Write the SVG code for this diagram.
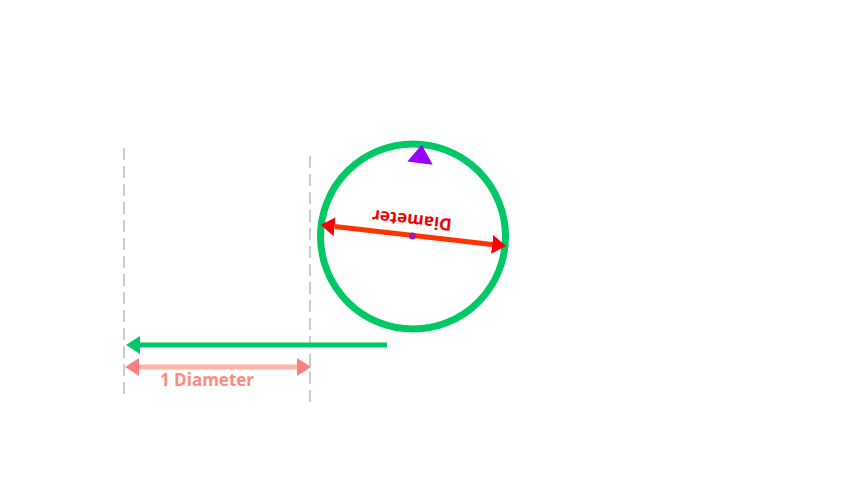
<svg xmlns="http://www.w3.org/2000/svg" width="852" height="480" viewBox="0 0 852 480">
<defs>
<style>
.guide{stroke:#cccccc;stroke-width:2;stroke-dasharray:12 6;fill:none}
.lbl{font-family:"Open Sans","Liberation Sans",sans-serif;font-weight:bold;font-size:17px;text-anchor:middle}
</style>
<marker id="hGreen" markerUnits="userSpaceOnUse" markerWidth="16" markerHeight="20" viewBox="0 -10 16 20" refX="0" refY="0" orient="auto-start-reverse"><path d="M0,-9 L14,0 L0,9 Z" fill="#00c864"/></marker>
<marker id="hRed" markerUnits="userSpaceOnUse" markerWidth="16" markerHeight="20" viewBox="0 -10 16 20" refX="0" refY="0" orient="auto-start-reverse"><path d="M0,-9.5 L14,0 L0,9.5 Z" fill="#ff0000"/></marker>
<marker id="hPink" markerUnits="userSpaceOnUse" markerWidth="16" markerHeight="20" viewBox="0 -10 16 20" refX="0" refY="0" orient="auto-start-reverse"><path d="M0,-9 L14,0 L0,9 Z" fill="#ff8080"/></marker>
</defs>
<rect width="852" height="480" fill="#ffffff"/>
<g id="guides">
<line class="guide" x1="124" y1="148" x2="124" y2="398"/>
<line class="guide" x1="310" y1="156" x2="310" y2="406"/>
</g>
<g id="wheel">
<circle cx="413" cy="236.5" r="92.5" fill="none" stroke="#00c864" stroke-width="7"/>
<polygon points="421.7,144.7 407.3,161.5 432.7,164.7" fill="#9900ff"/>
</g>
<g id="connectors">
<line x1="387" y1="345" x2="140" y2="345" stroke="#00c864" stroke-width="5" marker-end="url(#hGreen)"/>
<line x1="334.6" y1="226.6" x2="492.1" y2="244.4" stroke="#ff3300" stroke-width="5" marker-start="url(#hRed)" marker-end="url(#hRed)"/>
<line x1="139" y1="367" x2="297" y2="367" stroke="#ffb5a5" stroke-width="5" marker-start="url(#hPink)" marker-end="url(#hPink)"/>
</g>
<g id="center">
<circle cx="412.5" cy="236" r="3.5" fill="#9b1fa8"/>
</g>
<g id="labels">
<text class="lbl" fill="#ee0000" transform="translate(412,236) rotate(186.5)" x="2" y="21.5">Diameter</text>
<text class="lbl" fill="#ff8a80" x="207" y="385.5">1 Diameter</text>
</g>
</svg>
